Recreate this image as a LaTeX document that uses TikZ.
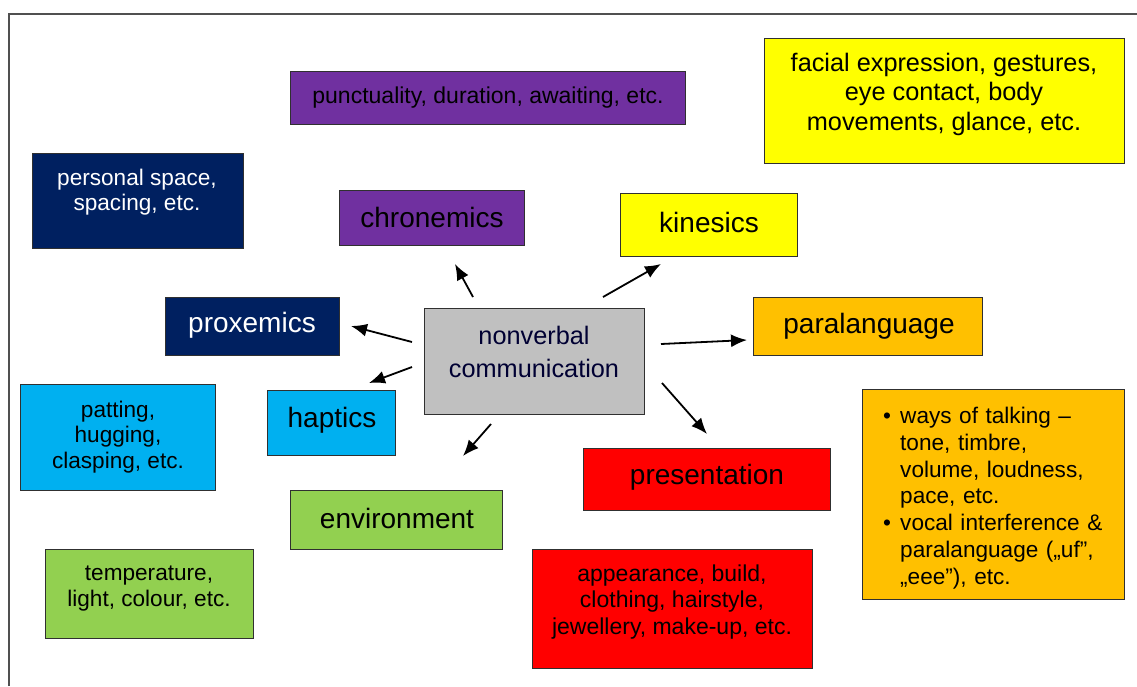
\documentclass[tikz,border=0pt]{standalone}
\usepackage{fontspec}
\setmainfont{Liberation Sans}
\usetikzlibrary{arrows.meta}
\definecolor{cPurple}{HTML}{7030A0}
\definecolor{cNavy}{HTML}{002060}
\definecolor{cYellow}{HTML}{FFFF00}
\definecolor{cOrange}{HTML}{FFC000}
\definecolor{cCyan}{HTML}{00B0F0}
\definecolor{cGreen}{HTML}{92D050}
\definecolor{cRed}{HTML}{FF0000}
\definecolor{cGray}{HTML}{C0C0C0}
\definecolor{boxline}{HTML}{303030}
\definecolor{frameline}{HTML}{505050}
\begin{document}
\begin{tikzpicture}[x=1pt,y=-1pt,
  box/.style={draw=boxline, line width=1.1pt, inner sep=0pt, anchor=north west},
  txt/.style={inner sep=0pt, align=center, text=black},
  fBig/.style={font=\fontsize{28}{33}\selectfont},
  fMid/.style={font=\fontsize{25.3}{29.5}\selectfont},
  fCom/.style={font=\fontsize{25.3}{33}\selectfont},
  fSmall/.style={font=\fontsize{22.6}{25.5}\selectfont},
  fApp/.style={font=\fontsize{23}{26.5}\selectfont},
  fBul/.style={font=\fontsize{22.6}{26.8}\selectfont},
  arr/.style={-{Latex[length=16pt,width=13pt]}, line width=1.8pt, black}]
\useasboundingbox (0,0) rectangle (1137,686);
% outer frame (top and left edges)
\draw[frameline, line width=1.4pt] (9,686) -- (9,14) -- (1137,14);

% coloured boxes
\node[box, fill=cPurple, minimum width=395pt, minimum height=53pt] (punB) at (290,71) {};
\node[box, fill=cYellow, minimum width=360pt, minimum height=125pt] (facB) at (764,38) {};
\node[box, fill=cNavy, minimum width=211pt, minimum height=95pt] (perB) at (32,153) {};
\node[box, fill=cPurple, minimum width=185pt, minimum height=55pt] (chrB) at (339,190) {};
\node[box, fill=cYellow, minimum width=177pt, minimum height=63pt] (kinB) at (620,193) {};
\node[box, fill=cNavy, minimum width=174pt, minimum height=58pt] (proB) at (165,297) {};
\node[box, fill=cGray, minimum width=220pt, minimum height=106pt] (nvcB) at (424,308) {};
\node[box, fill=cOrange, minimum width=229pt, minimum height=58pt] (parB) at (753,297) {};
\node[box, fill=cCyan, minimum width=195pt, minimum height=106pt] (patB) at (20,384) {};
\node[box, fill=cCyan, minimum width=128pt, minimum height=65pt] (hapB) at (267,390) {};
\node[box, fill=cOrange, minimum width=262pt, minimum height=210pt] (bulB) at (862,389) {};
\node[box, fill=cRed, minimum width=247pt, minimum height=62pt] (preB) at (583,448) {};
\node[box, fill=cGreen, minimum width=212pt, minimum height=59pt] (envB) at (290,490) {};
\node[box, fill=cGreen, minimum width=208pt, minimum height=89pt] (temB) at (45,549) {};
\node[box, fill=cRed, minimum width=280pt, minimum height=119pt] (appB) at (532,549) {};

% texts
\node[txt, font=\fontsize{23}{26}\selectfont] (pun) at (488,98) {punctuality, duration, awaiting, etc.};
\node[txt, fMid] (fac) at (944,94) {facial expression, gestures,\\eye contact, body\\movements, glance, etc.};
\node[txt, fSmall, text=white] (per) at (137,192) {personal space,\\spacing, etc.};
\node[txt, fBig] (chr) at (432,217) {chronemics};
\node[txt, fBig] (kin) at (709,222) {kinesics};
\node[txt, fBig, text=white] (pro) at (252,325) {proxemics};
\node[txt, fCom, text={black!80!blue}] (nvc) at (534,352) {nonverbal\\communication};
\node[txt, fBig] (par) at (869,326) {paralanguage};
\node[txt, fSmall] (pat) at (118,437) {patting,\\hugging,\\clasping, etc.};
\node[txt, fBig] (hap) at (332,420) {haptics};
\node[txt, fBig] (pre) at (707,477) {presentation};
\node[txt, fBig] (env) at (397,518) {environment};
\node[txt, font=\fontsize{22.6}{26}\selectfont] (tem) at (149,589) {temperature,\\light, colour, etc.};
\node[txt, fApp] (app) at (672,602) {appearance, build,\\clothing, hairstyle,\\jewellery, make-up, etc.};
\node[txt, fBul, align=left, text width=235pt, anchor=west] (bul) at (883,498)
  {\makebox[17pt][l]{•}ways of talking –\\
   \hspace*{17pt}tone, timbre,\\
   \hspace*{17pt}volume, loudness,\\
   \hspace*{17pt}pace, etc.\\
   \makebox[17pt][l]{•}vocal interference \&\\
   \hspace*{17pt}paralanguage („uf”,\\
   \hspace*{17pt}„eee”), etc.};

% arrows radiating from the central box
\coordinate (sChr) at (473,297); \coordinate (eChr) at (455,264);
\coordinate (sKin) at (603,297); \coordinate (eKin) at (661,264);
\coordinate (sPro) at (412,342); \coordinate (ePro) at (351,326);
\coordinate (sHap) at (412,367); \coordinate (eHap) at (369,383);
\coordinate (sPar) at (661,344); \coordinate (ePar) at (747,340);
\coordinate (sPre) at (662,383); \coordinate (ePre) at (707,434);
\coordinate (sEnv) at (491,424); \coordinate (eEnv) at (463,456);
\draw[arr] (sChr) -- (eChr);
\draw[arr] (sKin) -- (eKin);
\draw[arr] (sPro) -- (ePro);
\draw[arr] (sHap) -- (eHap);
\draw[arr] (sPar) -- (ePar);
\draw[arr] (sPre) -- (ePre);
\draw[arr] (sEnv) -- (eEnv);
\end{tikzpicture}
\end{document}
